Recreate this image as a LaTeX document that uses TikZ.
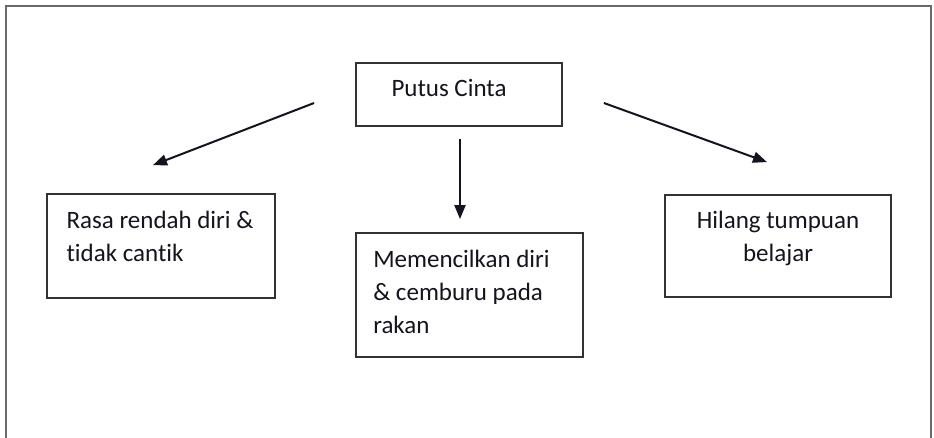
\documentclass[tikz,border=0pt]{standalone}
\usepackage{fontspec}
\setmainfont{Carlito}[Ligatures=NoCommon]
\usetikzlibrary{arrows.meta}
\definecolor{framegray}{RGB}{105,105,105}
\definecolor{boxgray}{RGB}{50,50,50}
\definecolor{inkc}{RGB}{20,20,30}
\begin{document}
\begin{tikzpicture}[x=1pt,y=-1pt,
  box/.style={draw=boxgray, line width=1.8pt, inner sep=0pt},
  txt/.style={font=\fontsize{25}{33}\selectfont, text=inkc, inner sep=0pt},
  arr/.style={draw=inkc, line width=2pt, -{Triangle[length=14pt,width=11pt]}}]
\useasboundingbox (0,0) rectangle (934,438);
\clip (0,0) rectangle (934,438);
\fill[white] (0,0) rectangle (934,438);
\draw[framegray, line width=2.5pt] (6,6) rectangle (931,470);
% boxes
\node[box, minimum width=206pt, minimum height=63pt] (top) at (459,94.5) {};
\node[box, minimum width=228pt, minimum height=104pt] (left) at (161,246) {};
\node[box, minimum width=227pt, minimum height=124pt] (mid) at (469.5,295) {};
\node[box, minimum width=226pt, minimum height=102pt] (right) at (778,246) {};
% texts
\node[txt] (topT) at ([shift={(-10,-6.5)}]top.center) {Putus Cinta};
\node[txt, align=left] (leftT) at ([shift={(-1,-10)}]left.center) {Rasa rendah diri \&\\tidak cantik};
\node[txt, align=left] (midT) at ([shift={(-8,-3)}]mid.center) {Memencilkan diri\\\& cemburu pada\\rakan};
\node[txt, align=center] (rightT) at ([shift={(0,-7.5)}]right.center) {Hilang tumpuan\\belajar};
% arrows
\draw[arr] ([shift={(-41,8.5)}]top.west) -- ([shift={(-8,-28)}]left.north);
\draw[arr] ([shift={(1,12)}]top.south) -- ([shift={(-9.5,-13)}]mid.north);
\draw[arr] ([shift={(41,8.5)}]top.east) -- ([shift={(-11,-32)}]right.north);
\end{tikzpicture}
\end{document}
